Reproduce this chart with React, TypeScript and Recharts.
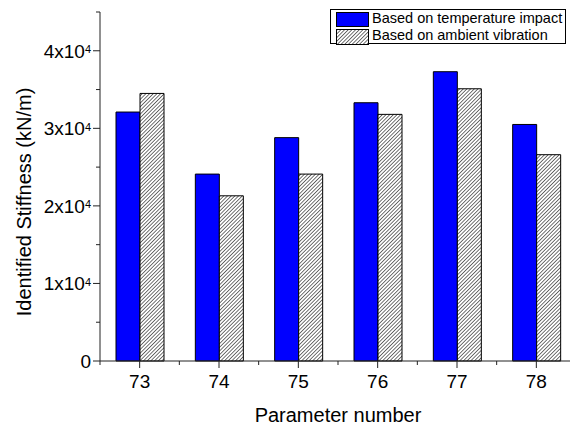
import React from "react";
import { BarChart, Bar, XAxis, YAxis, Legend } from "recharts";

// parameter numbers along the x axis
const params = ["73", "74", "75", "76", "77", "78"];
// identified stiffness (kN/m)
const tempImpact = [32100, 24100, 28800, 33300, 37300, 30500];
const ambientVib = [34500, 21300, 24100, 31800, 35100, 26600];
const yTicks = [0, 5000, 10000, 15000, 20000, 25000, 30000, 35000, 40000, 45000];

const data = params.map((p, i) => ({
  param: p,
  temp: tempImpact[i],
  ambient: ambientVib[i],
}));

const FONT = '"Liberation Sans", Arial, sans-serif';
const AXIS_X = 100;
const AXIS_Y = 361;
const HALF_BAND = 476 / 6 / 2;

const YTick = (props: any) => {
  const { y, payload } = props;
  const v = payload.value as number;
  const major = v % 10000 === 0;
  return (
    <g>
      <line x1={AXIS_X - (major ? 7 : 4)} x2={AXIS_X} y1={y} y2={y} stroke="#222" />
      {major && (
        <text x={91} y={y + 7} textAnchor="end" fontSize={19} fill="#000" fontFamily={FONT}>
          {v === 0 ? (
            "0"
          ) : (
            <>
              <tspan>{v / 10000}x10</tspan>
              <tspan dy={-4.5} fontSize={11}>4</tspan>
            </>
          )}
        </text>
      )}
    </g>
  );
};

const XTick = (props: any) => {
  const { x, payload } = props;
  return (
    <g>
      <line x1={x} x2={x} y1={AXIS_Y} y2={AXIS_Y + 7} stroke="#222" />
      <line x1={x - HALF_BAND} x2={x - HALF_BAND} y1={AXIS_Y} y2={AXIS_Y + 4} stroke="#222" />
      <text x={x} y={AXIS_Y + 27} textAnchor="middle" fontSize={19} fill="#000" fontFamily={FONT}>
        {payload.value}
      </text>
    </g>
  );
};

const LegendBox = () => (
  <div
    style={{
      border: "1px solid #000",
      width: 236,
      height: 35,
      background: "#fff",
      fontFamily: FONT,
      fontSize: 14.5,
      color: "#000",
      boxSizing: "border-box",
      position: "relative",
    }}
  >
    <svg width={34} height={34} style={{ position: "absolute", left: 5, top: 2 }}>
      <rect x={0.5} y={0.5} width={32} height={14} fill="#0000ff" stroke="#000" />
      <rect x={0.5} y={17.5} width={32} height={15} fill="url(#hatch)" stroke="#000" />
    </svg>
    <div style={{ position: "absolute", left: 41, top: 0, lineHeight: "17px", whiteSpace: "nowrap" }}>
      Based on temperature impact
    </div>
    <div style={{ position: "absolute", left: 41, top: 17, lineHeight: "17px", whiteSpace: "nowrap" }}>
      Based on ambient vibration
    </div>
  </div>
);

export default function App() {
  return (
    <div
      style={{
        position: "absolute",
        left: 0,
        top: 0,
        width: 570,
        height: 430,
        overflow: "hidden",
        background: "#fff",
      }}
    >
      <svg width={0} height={0} style={{ position: "absolute" }}>
        <defs>
          <pattern id="hatch" patternUnits="userSpaceOnUse" width={2.6} height={2.6} patternTransform="rotate(45)">
            <rect width={2.6} height={2.6} fill="#fff" />
            <line x1={0} y1={0} x2={0} y2={2.6} stroke="#000" strokeWidth={1.1} />
          </pattern>
        </defs>
      </svg>
      <BarChart
        width={580}
        height={430}
        data={data}
        margin={{ top: 12, right: 4, bottom: 0, left: 0 }}
        barGap={0}
        barSize={24}
      >
        <XAxis
          dataKey="param"
          height={69}
          interval={0}
          tickLine={false}
          tick={<XTick />}
          axisLine={{ stroke: "#222" }}
          label={{
            content: () => (
              <text x={338} y={422} textAnchor="middle" fontSize={20} fill="#000" fontFamily={FONT}>
                Parameter number
              </text>
            ),
          }}
        />
        <YAxis
          width={100}
          domain={[0, 45000]}
          ticks={yTicks}
          interval={0}
          tickLine={false}
          tick={<YTick />}
          axisLine={{ stroke: "#222" }}
          label={{
            content: () => (
              <text
                transform="translate(31,202) rotate(-90)"
                textAnchor="middle"
                fontSize={20}
                fill="#000"
                fontFamily={FONT}
              >
                Identified Stiffness (kN/m)
              </text>
            ),
          }}
        />
        <Legend
          layout="horizontal"
          verticalAlign="middle"
          align="center"
          content={() => <LegendBox />}
          wrapperStyle={{ left: 330, top: 9, width: 238, height: 37 }}
        />
        <Bar dataKey="temp" fill="#0000ff" stroke="#000" strokeWidth={1} isAnimationActive={false} />
        <Bar dataKey="ambient" fill="url(#hatch)" stroke="#000" strokeWidth={1} isAnimationActive={false} />
      </BarChart>
    </div>
  );
}
